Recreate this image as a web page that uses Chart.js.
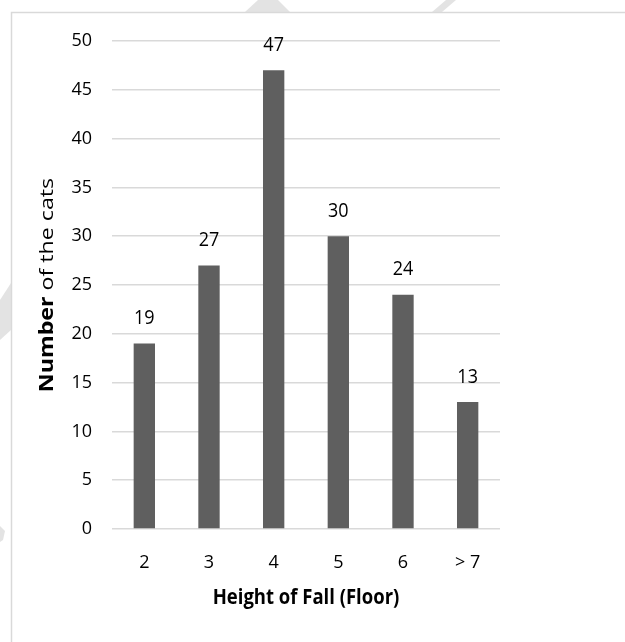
<!DOCTYPE html>
<html>
<head>
<meta charset="utf-8">
<script src="https://cdn.jsdelivr.net/npm/chart.js@4.4.1/dist/chart.umd.min.js"></script>
<style>
  html, body { margin: 0; padding: 0; background: #fff; }
  #wrap { width: 625px; height: 642px; }
</style>
</head>
<body>
<div id="wrap"><canvas id="catChart" width="625" height="642"></canvas></div>
<script>
// ================= DATA =================
const floors = ["2", "3", "4", "5", "6", "> 7"];
const catCounts = [19, 27, 47, 30, 24, 13];
const yTicks = [0, 5, 10, 15, 20, 25, 30, 35, 40, 45, 50];

const FONT = "'Open Sans', 'Noto Sans', sans-serif";
const GRID = "#d9d9d9";

// ================= PLUGINS =================
// page frame + faint watermark strokes in the margins
const framePlugin = {
  id: "frame",
  beforeDraw(chart) {
    const c = chart.ctx;
    c.save();
    c.fillStyle = "#fff";
    c.fillRect(0, 0, chart.width, chart.height);

    c.fillStyle = "#e3e3e3";
    const shapes = [
      [[245, 12], [258, 0], [278, 0], [290, 12]],
      [[432, 12], [446, 0], [456, 0], [442, 12]],
      [[0, 300], [11, 283], [11, 330], [0, 340]],
      [[0, 526], [5, 531], [3, 540], [0, 542]]
    ];
    shapes.forEach(pts => {
      c.beginPath();
      c.moveTo(pts[0][0], pts[0][1]);
      pts.slice(1).forEach(p => c.lineTo(p[0], p[1]));
      c.closePath();
      c.fill();
    });

    c.strokeStyle = GRID;
    c.lineWidth = 1.5;
    c.strokeRect(11.5, 12.5, chart.width + 10, chart.height + 10);
    c.restore();
  }
};

// the original picture is a little stretched vertically, so text is drawn taller
function stretchedText(c, text, x, y, sy) {
  c.save();
  c.translate(x, y);
  c.scale(1, sy);
  c.fillText(text, 0, 0);
  c.restore();
}

// value labels over bars and the two axis titles
const labelPlugin = {
  id: "labels",
  afterDatasetsDraw(chart) {
    const c = chart.ctx;
    const area = chart.chartArea;
    c.save();
    c.fillStyle = "#000";
    c.textAlign = "center";
    c.textBaseline = "middle";
    c.font = "18px " + FONT;
    chart.getDatasetMeta(0).data.forEach((bar, i) => {
      stretchedText(c, String(catCounts[i]), bar.x, bar.y - 25, 1.1);
    });

    // x title
    c.font = "bold 18.5px " + FONT;
    stretchedText(c, "Height of Fall (Floor)", (area.left + area.right) / 2, 598, 1.12);

    // y title, "Number" bold and the rest normal, stretched along its length
    const boldPart = "Number";
    const restPart = " of the cats";
    c.font = "bold 19px " + FONT;
    const w1 = c.measureText(boldPart).width;
    c.font = "19px " + FONT;
    const w2 = c.measureText(restPart).width;
    c.translate(48, (area.top + area.bottom) / 2);
    c.rotate(-Math.PI / 2);
    c.scale(1.22, 1);
    c.textAlign = "left";
    const x = -(w1 + w2) / 2;
    c.font = "bold 19px " + FONT;
    c.fillText(boldPart, x, 0);
    c.font = "19px " + FONT;
    c.fillText(restPart, x + w1, 0);
    c.restore();
  }
};

// ================= CHART =================
const ctx = document.getElementById("catChart").getContext("2d");

new Chart(ctx, {
  type: "bar",
  data: {
    labels: floors,
    datasets: [{
      data: catCounts,
      backgroundColor: "#5f5f5f",
      barPercentage: 0.33,
      categoryPercentage: 1
    }]
  },
  options: {
    responsive: false,
    animation: false,
    devicePixelRatio: 1,
    layout: { padding: { left: 0, right: 125, top: 41, bottom: 0 } },
    plugins: {
      legend: { display: false },
      tooltip: { enabled: false }
    },
    scales: {
      x: {
        grid: { display: false, drawTicks: false },
        border: { display: false },
        ticks: { color: "#000", font: { family: FONT, size: 18 }, padding: 23 },
        afterFit(scale) { scale.height = 113; }
      },
      y: {
        min: 0,
        max: 50,
        afterBuildTicks(scale) { scale.ticks = yTicks.map(v => ({ value: v })); },
        grid: { color: GRID, lineWidth: 1.5, drawTicks: false },
        border: { display: false },
        ticks: { color: "#000", font: { family: FONT, size: 18 }, padding: 20 },
        afterFit(scale) { scale.width = 112; }
      }
    }
  },
  plugins: [framePlugin, labelPlugin]
});
</script>
</body>
</html>
